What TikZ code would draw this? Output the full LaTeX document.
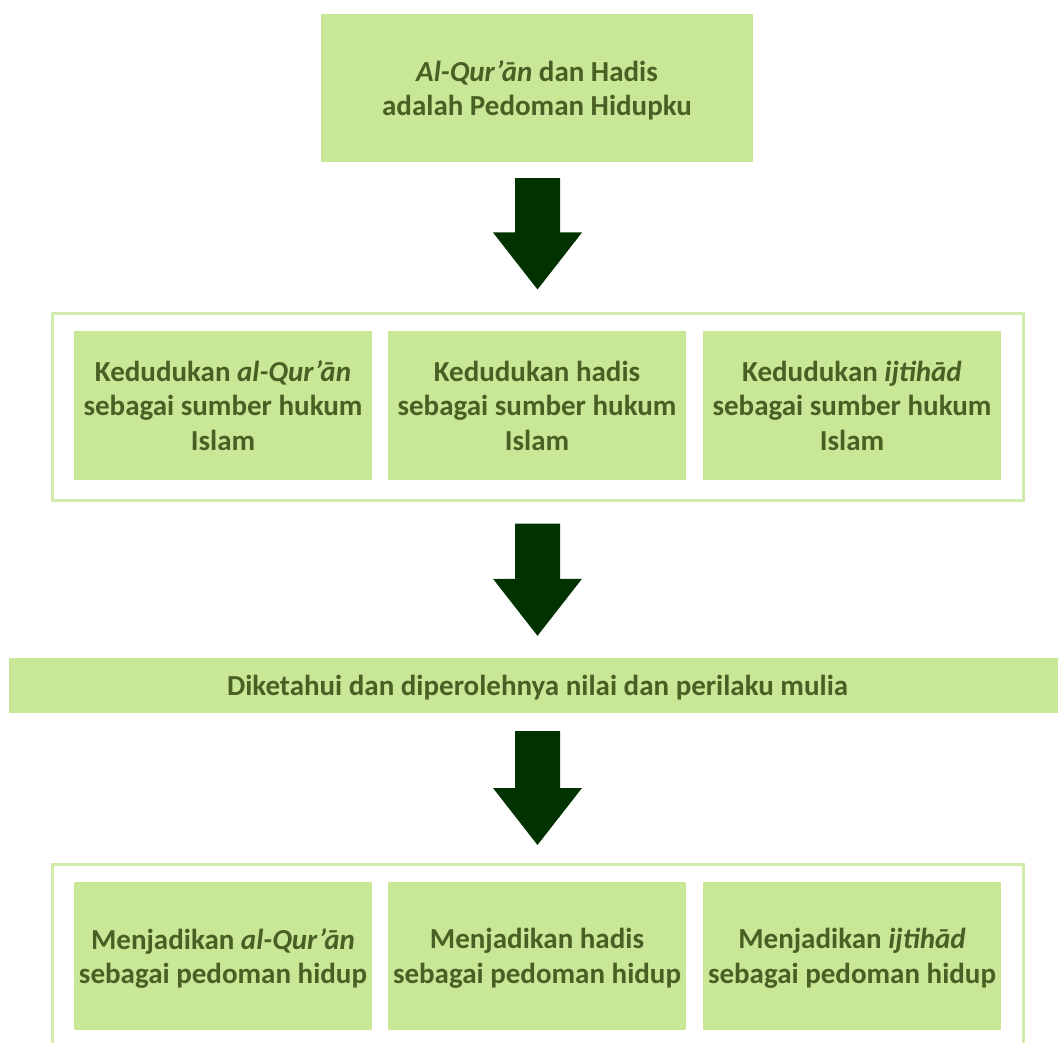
\documentclass[tikz,border=0pt]{standalone}
\usepackage{fontspec}
\setmainfont{Carlito}
\usetikzlibrary{calc}
\definecolor{boxfill}{HTML}{C9E897}
\definecolor{framec}{HTML}{D2EDAB}
\definecolor{txtc}{HTML}{4A5F24}
\definecolor{arrowc}{HTML}{003300}
\tikzset{
  greenbox/.style={rectangle, fill=boxfill, inner sep=0pt, align=center,
    text=txtc, font=\fontsize{29}{34.5}\selectfont\bfseries,
    text depth=-4pt},
  groupframe/.style={rectangle, draw=framec, line width=3pt, inner sep=0pt},
  blockarrow/.style={fill=arrowc}
}
\newcommand{\mkarrow}[2]{%
  \fill[blockarrow] ($(#1)+(-22.5,0)$) -- ($(#1)+(22.5,0)$) -- ($(#2)+(22.5,-57)$) -- ($(#2)+(44.5,-57)$) -- (#2) -- ($(#2)+(-44.5,-57)$) -- ($(#2)+(-22.5,-57)$) -- cycle;}
\begin{document}
\begin{tikzpicture}[x=1pt,y=-1pt]
\clip (0,0) rectangle (1058,1043);
\useasboundingbox (0,0) rectangle (1058,1043);
% top box
\node[greenbox, minimum width=432, minimum height=148] (top) at (537,88)
  {\textit{Al-Qur’ān} dan Hadis\\adalah Pedoman Hidupku};
% group 1
\node[groupframe, minimum width=971, minimum height=187] (frame1) at (537.5,406.5) {};
\node[greenbox, minimum width=298, minimum height=149] (k1) at (223,405.5)
  {Kedudukan \textit{al-Qur’ān}\\sebagai sumber hukum\\Islam};
\node[greenbox, minimum width=298, minimum height=149] (k2) at (537,405.5)
  {Kedudukan hadis\\sebagai sumber hukum\\Islam};
\node[greenbox, minimum width=298, minimum height=149] (k3) at (852,405.5)
  {Kedudukan \textit{ijtihād}\\sebagai sumber hukum\\Islam};
% bar
\node[greenbox, minimum width=1057, minimum height=55] (bar) at (537.5,685.5)
  {Diketahui dan diperolehnya nilai dan perilaku mulia};
% group 2
\node[groupframe, minimum width=971, minimum height=200, anchor=north] (frame2) at (537.5,863) {};
\node[greenbox, minimum width=298, minimum height=148] (m1) at (223,956)
  {Menjadikan \textit{al-Qur’ān}\\sebagai pedoman hidup};
\node[greenbox, minimum width=298, minimum height=148] (m2) at (537,956)
  {Menjadikan hadis\\sebagai pedoman hidup};
\node[greenbox, minimum width=298, minimum height=148] (m3) at (852,956)
  {Menjadikan \textit{ijtihād}\\sebagai pedoman hidup};
% arrows
\coordinate (a1s) at ($(top.south)+(0.5,16)$);
\coordinate (a1t) at ($(frame1.north)+(0,-22)$);
\mkarrow{a1s}{a1t}
\coordinate (a2s) at ($(frame1.south)+(0,22)$);
\coordinate (a2t) at ($(bar.north)+(0,-22)$);
\mkarrow{a2s}{a2t}
\coordinate (a3s) at ($(bar.south)+(0,18)$);
\coordinate (a3t) at ($(frame2.north)+(0,-18)$);
\mkarrow{a3s}{a3t}
\end{tikzpicture}
\end{document}
